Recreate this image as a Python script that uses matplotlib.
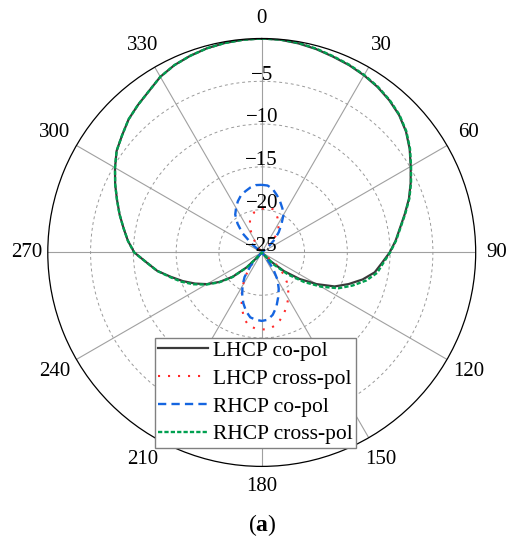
import numpy as np
import matplotlib
matplotlib.use("Agg")
import matplotlib.pyplot as plt

plt.rcParams['font.family'] = ['Liberation Serif', 'DejaVu Serif']
plt.rcParams['mathtext.fontset'] = 'custom'
plt.rcParams['mathtext.rm'] = 'Liberation Serif'
plt.rcParams['mathtext.bf'] = 'Liberation Serif:bold'

# angles in degrees (0..355 step 5)
theta_deg = list(range(0, 360, 5))

lhcp_co = [0.0, -0.05, -0.2, -0.4, -0.65, -0.85, -1.1, -1.4, -1.8, -2.3, -3.0, -3.9,
           -4.9, -5.8, -6.7, -7.7, -8.6, -9.3, -10.05, -10.9, -11.6, -12.8, -14.2, -15.6,
           -17.6, -19.6, -21.6, -23.6, -26.0, -30, -30, -30, -30, -30, -30, -30,
           -30, -30, -30, -30, -30, -30, -30, -27.0, -24.6, -22.6, -20.6, -19.0,
           -17.6, -16.4, -15.2, -14.0, -12.6, -11.5, -10.1, -9.3, -8.6, -7.8, -7.0, -6.1,
           -5.2, -4.3, -3.7, -3.0, -2.5, -2.0, -1.3, -0.85, -0.55, -0.3, -0.15, -0.05]

lhcp_cross = [-19.9, -19.8, -19.7, -19.8, -20.1, -20.6, -21.1, -21.6, -22.4, -23.6, -25.5, -30,
              -30, -30, -30, -30, -30, -30, -30, -30, -30, -30, -30, -30,
              -30, -24.8, -22.8, -21.3, -20.4, -19.6, -18.8, -18.1, -17.4, -16.8, -16.3, -16.0,
              -16.0, -16.1, -16.3, -17.0, -18.2, -19.4, -20.6, -21.8, -23.2, -25.0, -30, -30,
              -30, -30, -30, -30, -30, -30, -30, -30, -30, -30, -30, -30,
              -30, -30, -30, -30, -25.5, -24.0, -22.7, -21.7, -21.0, -20.5, -20.2, -20.0]

rhcp_co = [-17.1, -17.15, -17.5, -18.1, -18.7, -19.3, -19.9, -21.0, -21.9, -22.9, -24.0, -25.5,
           -30, -30, -30, -30, -30, -30, -30, -30, -30, -30, -30, -30,
           -30, -30, -30, -30, -24.3, -22.7, -21.3, -20.3, -19.4, -18.4, -17.6, -17.1,
           -17.0, -17.1, -17.3, -17.9, -18.7, -19.6, -20.5, -21.5, -23.0, -24.8, -30, -30,
           -30, -30, -30, -30, -30, -30, -30, -30, -30, -30, -30, -30,
           -30, -25.5, -23.6, -21.8, -20.6, -19.6, -19.0, -18.4, -17.9, -17.6, -17.3, -17.1]

rhcp_cross = [0.0, -0.03, -0.15, -0.35, -0.6, -0.8, -1.05, -1.35, -1.75, -2.25, -2.95, -3.85,
              -4.85, -5.75, -6.65, -7.65, -8.55, -9.25, -10.0, -10.75, -11.3, -12.35, -13.7, -15.1,
              -17.0, -19.0, -21.0, -23.0, -25.5, -30, -30, -30, -30, -30, -30, -30,
              -30, -30, -30, -30, -30, -30, -30, -27.0, -24.5, -22.5, -20.5, -18.9,
              -17.5, -16.2, -15.0, -13.9, -12.6, -11.5, -10.1, -9.3, -8.6, -7.8, -7.0, -6.1,
              -5.2, -4.3, -3.7, -3.0, -2.5, -2.0, -1.3, -0.85, -0.55, -0.3, -0.15, -0.05]

series_labels = ['LHCP co-pol', 'LHCP cross-pol', 'RHCP co-pol', 'RHCP cross-pol']
theta_ticks = list(range(0, 360, 30))
r_rings = [-20, -15, -10, -5]
r_labels = [-25, -20, -15, -10, -5]
r_min, r_max = -25, 0

fig = plt.figure(figsize=(5.12, 5.5), dpi=100)
ax = fig.add_axes([0.0932, 0.152, 0.836, 0.778], projection='polar')
ax.set_theta_zero_location('N')
ax.set_theta_direction(-1)


def closed(vals):
    t = np.deg2rad(np.array(theta_deg + [360]))
    v = np.array(vals + [vals[0]], dtype=float)
    return t, np.maximum(v, r_min)


styles = [
    dict(color='#3a3a3a', lw=1.6, linestyle='-'),
    dict(color='#ff2a2a', lw=1.5, linestyle=(0, (1.0, 3.8))),
    dict(color='#1565e0', lw=1.7, linestyle=(0, (3.5, 2.2))),
    dict(color='#00a050', lw=1.7, linestyle=(0, (1.8, 0.9))),
]
for vals, lab, st in zip([lhcp_co, lhcp_cross, rhcp_co, rhcp_cross], series_labels, styles):
    t, v = closed(vals)
    ax.plot(t, v, label=lab, **st)

ax.set_ylim(r_min, r_max)
ax.set_yticks(r_rings)
ax.set_yticklabels([])
ax.yaxis.grid(True, linestyle=(0, (3, 3)), color='#9a9a9a', lw=0.7)
ax.set_xticks(np.deg2rad(theta_ticks))
ax.set_xticklabels([])
ax.set_xticks(np.deg2rad(np.arange(0, 360, 10)), minor=True)
ax.xaxis.grid(True, which='major', color='#a0a0a0', lw=0.8, linestyle='-')
ax.xaxis.grid(False, which='minor')
ax.tick_params(axis='x', which='major', direction='in', length=6, width=0.9, color='k')
ax.tick_params(axis='x', which='minor', direction='in', length=3.5, width=0.8, color='k')
ax.tick_params(axis='y', length=0)
ax.spines['polar'].set_color('black')
ax.spines['polar'].set_linewidth(0.9)

# theta labels at a fixed radius outside the circle (in pixels of the 214 px radius)
for d in theta_ticks:
    if d % 180 == 0:
        rad_px = 234
    elif d % 90 == 0:
        rad_px = 235
    else:
        rad_px = 239
    r_lab = r_min + (r_max - r_min) * rad_px / 214.0
    ax.text(np.deg2rad(d), r_lab, str(d), ha='center', va='center', fontsize=15,
            clip_on=False)

for r in r_labels:
    ax.annotate('\u2212' + str(-r), xy=(0, r), xytext=(0, 4.5), textcoords='offset points',
                ha='center', va='center', fontsize=15)

ax.legend(loc='center', bbox_to_anchor=(0.499, 0.286), bbox_transform=fig.transFigure,
          fancybox=False, edgecolor='#808080', framealpha=1, fontsize=15.5,
          handlelength=2.3, handletextpad=0.23, borderpad=0.15, labelspacing=0.36,
          borderaxespad=0)

fig.text(0.512, 1 - 525 / 550, r'($\mathbf{a}$)', ha='center', va='center', fontsize=17)

fig.savefig('out.png', dpi=100)
